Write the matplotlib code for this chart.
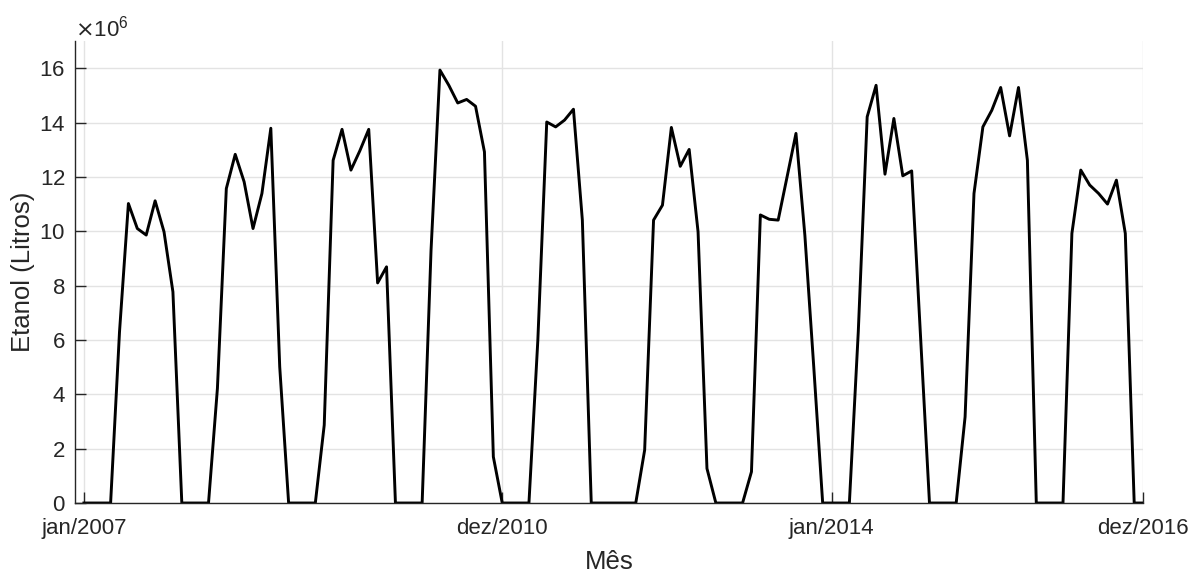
import matplotlib.pyplot as plt
import numpy as np
from matplotlib.ticker import ScalarFormatter

# Monthly ethanol volume (litres), jan/2007 .. dez/2016
etanol_mi = [
    0, 0, 0, 0, 6.3, 11.02, 10.10, 9.86, 11.12, 9.98, 7.77, 0,              # 2007
    0, 0, 0, 4.22, 11.57, 12.83, 11.82, 10.10, 11.39, 13.79, 5.01, 0,       # 2008
    0, 0, 0, 2.87, 12.61, 13.75, 12.25, 12.96, 13.75, 8.10, 8.69, 0,        # 2009
    0, 0, 0, 9.3, 15.93, 15.37, 14.72, 14.85, 14.60, 12.92, 1.70, 0,        # 2010
    0, 0, 0, 6.0, 14.02, 13.84, 14.09, 14.49, 10.41, 0, 0, 0,               # 2011
    0, 0, 0, 1.95, 10.41, 10.96, 13.82, 12.39, 13.01, 9.98, 1.27, 0,        # 2012
    0, 0, 0, 1.15, 10.60, 10.44, 10.41, 12.00, 13.60, 9.85, 5.0, 0,         # 2013
    0, 0, 0, 6.3, 14.21, 15.37, 12.10, 14.15, 12.04, 12.22, 6.1, 0,         # 2014
    0, 0, 0, 3.17, 11.39, 13.84, 14.45, 15.29, 13.51, 15.29, 12.61, 0,      # 2015
    0, 0, 0, 9.92, 12.25, 11.70, 11.39, 11.00, 11.88, 9.92, 0, 0,           # 2016
]
etanol = np.array(etanol_mi) * 1e6
meses = np.arange(len(etanol))

tick_pos = [0, 47, 84, 119]
tick_lbl = ['jan/2007', 'dez/2010', 'jan/2014', 'dez/2016']

plt.rcParams['font.family'] = ['Liberation Sans', 'DejaVu Sans']

fig = plt.figure(figsize=(12.02, 5.72), dpi=100)
ax = fig.add_axes([0.0624, 0.1206, 0.8886, 0.8077])

ax.plot(meses, etanol, color='black', linewidth=2.1)

ax.set_xlim(-1, 119)
ax.set_ylim(0, 17e6)
ax.set_xticks(tick_pos)
ax.set_xticklabels(tick_lbl)
ax.set_yticks(np.arange(0, 17e6, 2e6))

# x10^6 multiplier above the y axis
fmt = ScalarFormatter(useMathText=True)
fmt.set_powerlimits((6, 6))
ax.yaxis.set_major_formatter(fmt)
off = ax.yaxis.get_offset_text()
off.set_fontsize(16)
off.set_color('#262626')

ax.grid(True, color='#e3e3e3', linewidth=1)
ax.set_axisbelow(True)

for s in ['top', 'right']:
    ax.spines[s].set_visible(False)
for s in ['left', 'bottom']:
    ax.spines[s].set_color('#262626')
    ax.spines[s].set_linewidth(1)

ax.tick_params(direction='in', length=8, width=1, color='#262626',
               labelsize=16, labelcolor='#262626')
ax.tick_params(axis='y', pad=7)
ax.tick_params(axis='x', pad=11)

ax.set_xlabel('Mês', fontsize=18.5, color='#262626', labelpad=8)
ax.set_ylabel('Etanol (Litros)', fontsize=18.5, color='#262626', labelpad=3)

fig.savefig('out.png', dpi=100)
